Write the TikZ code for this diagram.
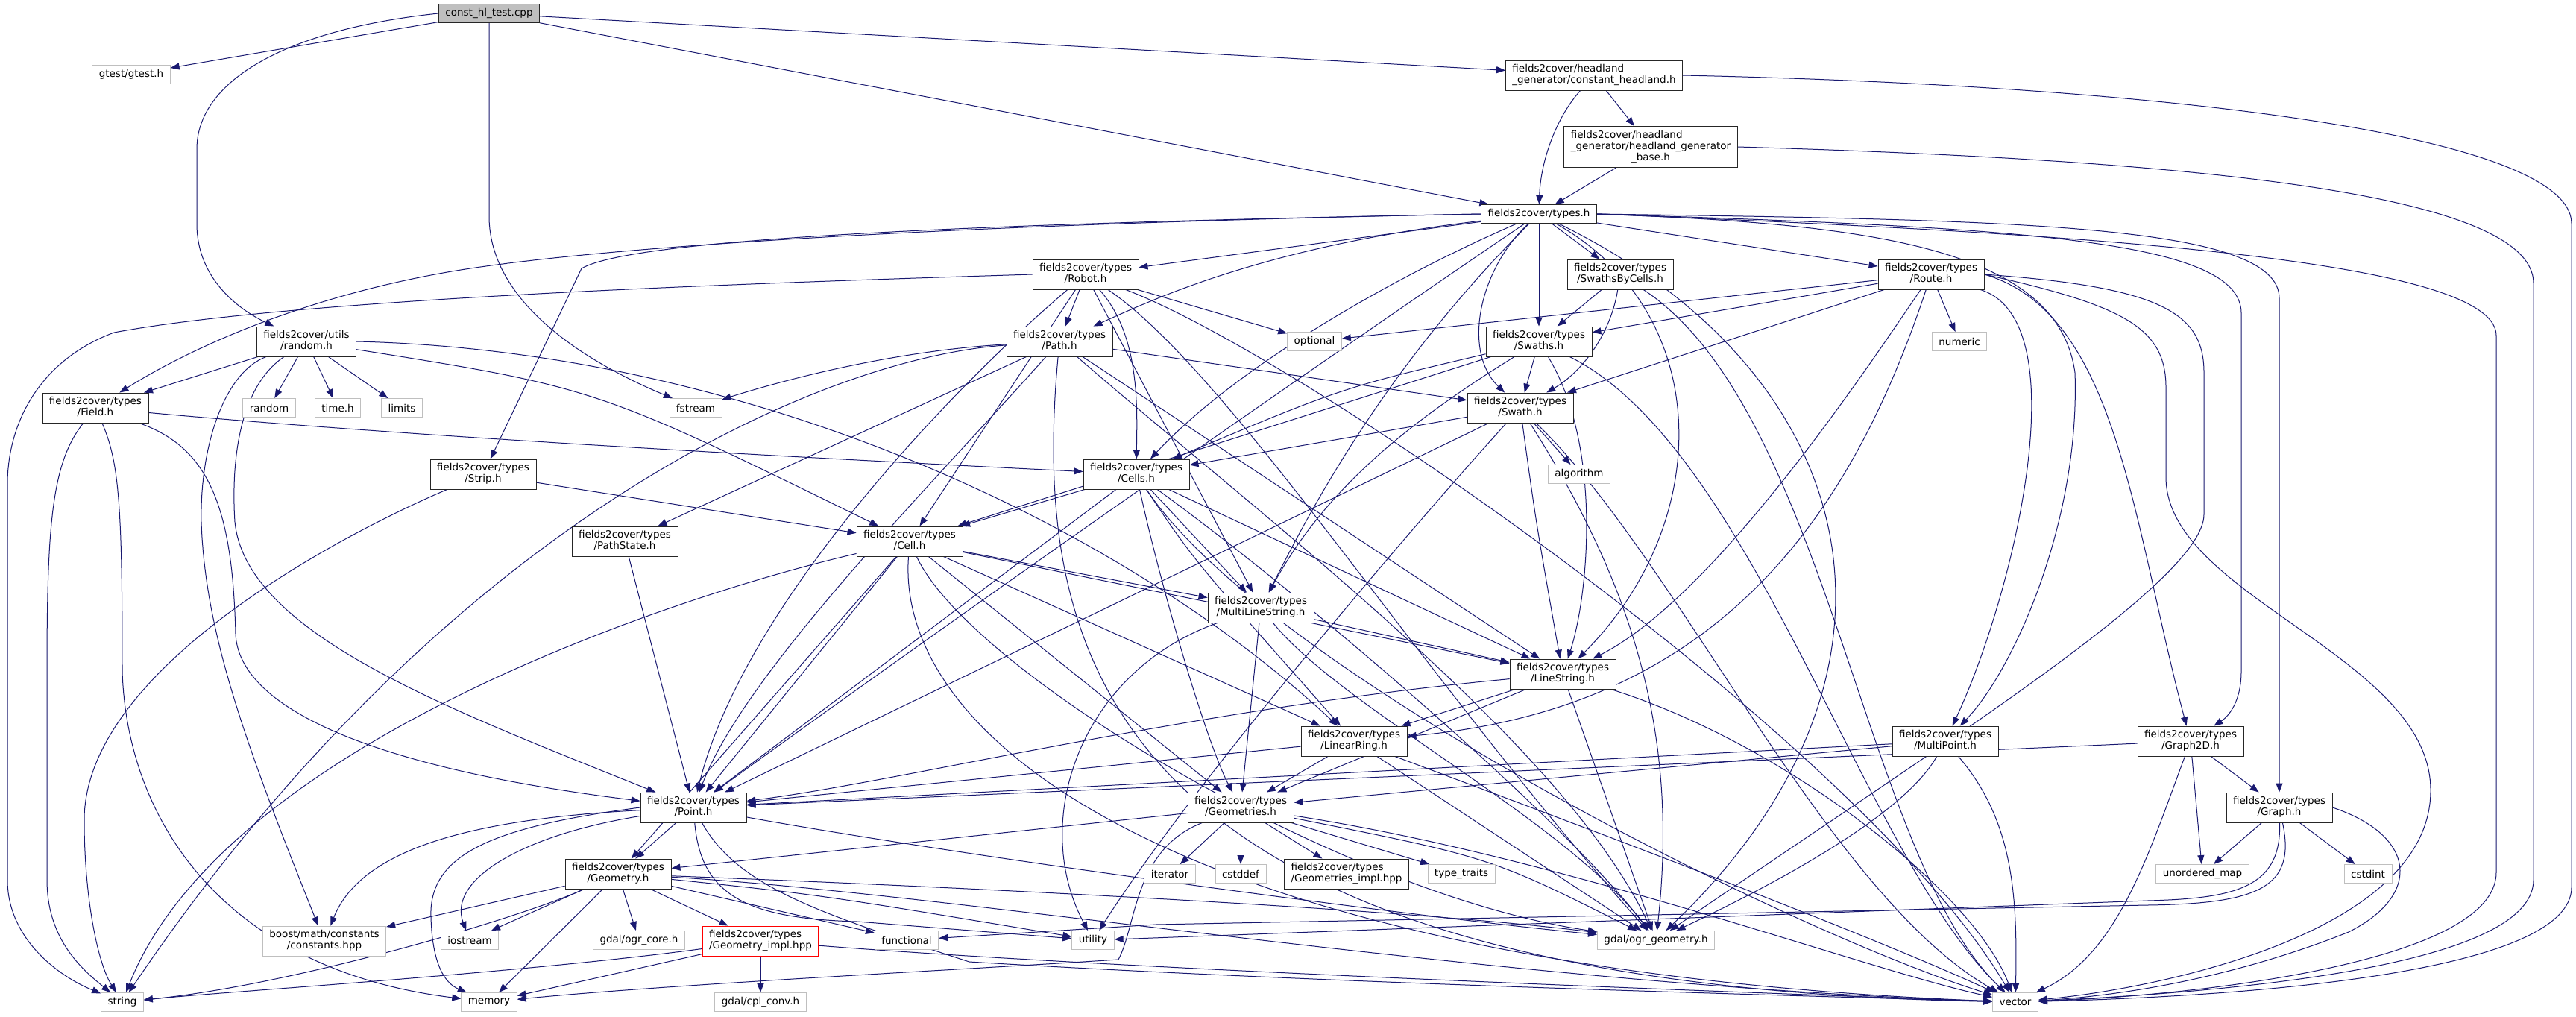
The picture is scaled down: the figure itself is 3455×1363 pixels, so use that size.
\documentclass[tikz,border=0pt]{standalone}
\usepackage{fontspec}
\setmainfont{DejaVu Sans}
\usetikzlibrary{arrows.meta}
\pgfdeclarelayer{bg}
\pgfsetlayers{bg,main}
\definecolor{edgeblue}{RGB}{25,25,112}
\definecolor{sysgray}{RGB}{191,191,191}
\newcommand{\ftwo}[2]{\begin{tabular}{@{}l@{}}#1\\\multicolumn{1}{@{}c@{}}{#2}\end{tabular}}
\newcommand{\ftype}[1]{\ftwo{fields2cover/types}{/#1}}

\begin{document}
\begin{tikzpicture}[x=1pt, y=-1pt, font=\fontsize{13.5}{15}\selectfont,
    box/.style={draw, line width=0.9pt, fill=white, inner xsep=9pt, inner ysep=5pt, minimum height=25pt},
    hdr/.style={box, draw=black!85},
    sys/.style={box, draw=sysgray},
    root/.style={box, draw=black!85, fill=sysgray},
    miss/.style={box, draw=red},
    inc/.style={draw=edgeblue, line width=1pt, -{Triangle[length=12pt,width=9pt]}}]
    \useasboundingbox (0,0) rectangle (3455,1363);

    % the test and the headland generator
    \node[root] (const) at (656,18) {const\_hl\_test.cpp};
    \node[sys] (gtest) at (176,100) {gtest/gtest.h};
    \node[hdr] (consthl) at (2138,101) {\ftwo{fields2cover/headland}{\_generator/constant\_headland.h}};
    \node[hdr] (hlbase) at (2214,197) {\begin{tabular}{@{}l@{}}fields2cover/headland\\\_generator/headland\_generator\\\multicolumn{1}{@{}c@{}}{\_base.h}\end{tabular}};
    \node[hdr] (types) at (2064,287) {fields2cover/types.h};

    % types
    \node[hdr] (robot) at (1456,368) {\ftype{Robot.h}};
    \node[hdr] (sbc) at (2173,368) {\ftype{SwathsByCells.h}};
    \node[hdr] (route) at (2590,368) {\ftype{Route.h}};
    \node[hdr] (rand) at (411,458) {\ftwo{fields2cover/utils}{/random.h}};
    \node[hdr] (path) at (1421,458) {\ftype{Path.h}};
    \node[sys] (optional) at (1763,458) {optional};
    \node[hdr] (swaths) at (2064,458) {\ftype{Swaths.h}};
    \node[sys] (numeric) at (2628,458) {numeric};
    \node[hdr] (field) at (128,547) {\ftype{Field.h}};
    \node[sys] (stdrandom) at (361,547) {random};
    \node[sys] (timeh) at (453,547) {time.h};
    \node[sys] (limits) at (539,547) {limits};
    \node[sys] (fstream) at (933,547) {fstream};
    \node[hdr] (swath) at (2039,547) {\ftype{Swath.h}};
    \node[hdr] (strip) at (648,636) {\ftype{Strip.h}};
    \node[hdr] (cells) at (1524,636) {\ftype{Cells.h}};
    \node[sys] (algorithm) at (2118,636) {algorithm};
    \node[hdr] (pathstate) at (838,726) {\ftype{PathState.h}};
    \node[hdr] (cell) at (1220,726) {\ftype{Cell.h}};
    \node[hdr] (mls) at (1691,815) {\ftype{MultiLineString.h}};
    \node[hdr] (ls) at (2096,904) {\ftype{LineString.h}};
    \node[hdr] (lr) at (1816,994) {\ftype{LinearRing.h}};
    \node[hdr] (mp) at (2609,994) {\ftype{MultiPoint.h}};
    \node[hdr] (gtwod) at (2938,994) {\ftype{Graph2D.h}};
    \node[hdr] (point) at (930,1083) {\ftype{Point.h}};
    \node[hdr] (geoms) at (1664,1083) {\ftype{Geometries.h}};
    \node[hdr] (graph) at (3057,1083) {\ftype{Graph.h}};
    \node[hdr] (geometry) at (829,1172) {\ftype{Geometry.h}};
    \node[sys] (iterator) at (1569,1172) {iterator};
    \node[sys] (cstddef) at (1664,1172) {cstddef};
    \node[hdr] (geomsimpl) at (1806,1172) {\ftype{Geometries\_impl.hpp}};
    \node[sys] (typetraits) at (1960,1172) {type\_traits};
    \node[sys] (umap) at (2954,1172) {unordered\_map};
    \node[sys] (cstdint) at (3176,1172) {cstdint};

    % system headers at the bottom
    \node[sys] (boost) at (435,1262) {\ftwo{boost/math/constants}{/constants.hpp}};
    \node[sys] (iostream) at (630,1261) {iostream};
    \node[sys] (ogrcore) at (857,1261) {gdal/ogr\_core.h};
    \node[miss] (geomimpl) at (1020,1262) {\ftype{Geometry\_impl.hpp}};
    \node[sys] (functional) at (1216,1261) {functional};
    \node[sys] (utility) at (1466,1261) {utility};
    \node[sys] (ogrgeom) at (2221,1261) {gdal/ogr\_geometry.h};
    \node[sys] (string) at (164,1344) {string};
    \node[sys] (memory) at (656,1344) {memory};
    \node[sys] (cplconv) at (1020,1344) {gdal/cpl\_conv.h};
    \node[sys] (vector) at (2703,1344) {vector};

    \begin{pgfonlayer}{bg}
    \fill[white] (0,0) rectangle (3455,1363);

    % const_hl_test.cpp
    \draw[inc] (const) -- (gtest);
    \draw[inc] (const.west) .. controls (380,40) and (264,110) .. (264,200) -- (264,300) .. controls (264,380) and (330,420) .. (rand);
    \draw[inc] (const) -- (656,290) .. controls (656,420) and (820,500) .. (fstream);
    \draw[inc] (const) -- (types);
    \draw[inc] (const) -- (consthl);

    % headland generator
    \draw[inc] (consthl) .. controls (2085,160) and (2066,220) .. (types);
    \draw[inc] (consthl) -- (hlbase);
    \draw[inc] (consthl.east) .. controls (2900,115) and (3449,180) .. (3449,300) -- (3449,1190) .. controls (3449,1300) and (3050,1335) .. (vector);
    \draw[inc] (hlbase) -- (types);
    \draw[inc] (hlbase.east) .. controls (2950,215) and (3398,260) .. (3398,380) -- (3398,1180) .. controls (3398,1295) and (3000,1330) .. (vector);

    % types.h
    \draw[inc] (types) -- (robot);
    \draw[inc] (types) .. controls (1700,330) and (1550,400) .. (path);
    \draw[inc] (types) -- (route);
    \draw[inc] (types) -- (sbc);
    \draw[inc] (types) -- (swaths);
    \draw[inc] (types) .. controls (1985,360) and (1960,470) .. (swath);
    \draw[inc] (types) .. controls (1850,380) and (1650,500) .. (cells);
    \draw[inc] (types.west) .. controls (1300,300) and (800,330) .. (600,365) .. controls (400,400) and (250,470) .. (field);
    \draw[inc] (types.west) .. controls (1300,300) and (850,320) .. (780,360) -- (strip);
    \draw[inc] (types) .. controls (1750,500) and (1250,850) .. (point);
    \draw[inc] (types) .. controls (1850,500) and (1750,700) .. (mls);
    \draw[inc] (types) .. controls (2300,420) and (2300,700) .. (ls);
    \draw[inc] (types.east) .. controls (2500,300) and (2760,330) .. (2783,500) .. controls (2790,700) and (2700,900) .. (mp);
    \draw[inc] (types.east) .. controls (2700,305) and (3006,320) .. (3006,420) -- (3006,900) .. controls (3006,940) and (2990,960) .. (gtwod);
    \draw[inc] (types.east) .. controls (2700,295) and (3057,300) .. (3057,400) -- (graph);
    \draw[inc] (types.east) .. controls (2700,310) and (3348,340) .. (3348,450) -- (3348,1170) .. controls (3348,1290) and (2950,1335) .. (vector);
    \draw[inc] (types) .. controls (2500,500) and (2600,900) .. (ogrgeom);

    % Robot.h
    \draw[inc] (robot) -- (path);
    \draw[inc] (robot) -- (optional);
    \draw[inc] (robot) .. controls (1530,450) and (1525,550) .. (cells);
    \draw[inc] (robot.west) .. controls (1000,380) and (400,400) .. (153,446) .. controls (60,480) and (10,560) .. (10,650) -- (10,1180) .. controls (10,1260) and (80,1310) .. (string);
    \draw[inc] (robot) .. controls (1300,500) and (1000,800) .. (point);
    \draw[inc] (robot) .. controls (1650,500) and (1900,900) .. (ogrgeom);
    \draw[inc] (robot) .. controls (1750,480) and (2500,1000) .. (vector);
    \draw[inc] (robot) -- (mls);
    \draw[inc] (robot) -- (cell);

    % Path.h
    \draw[inc] (path) .. controls (1200,470) and (1050,510) .. (fstream);
    \draw[inc] (path) -- (swath);
    \draw[inc] (path) -- (pathstate);
    \draw[inc] (path) .. controls (1250,650) and (1000,900) .. (point);
    \draw[inc] (path) .. controls (1100,480) and (600,700) .. (string);
    \draw[inc] (path) -- (ls);
    \draw[inc] (path) .. controls (1700,700) and (2100,1000) .. (ogrgeom);
    \draw[inc] (path) .. controls (1380,900) and (1500,1320) .. (vector);

    % SwathsByCells.h
    \draw[inc] (sbc) -- (swaths);
    \draw[inc] (sbc) .. controls (2160,450) and (2120,500) .. (swath);
    \draw[inc] (sbc) .. controls (2450,550) and (2500,1150) .. (vector);

    % Route.h
    \draw[inc] (route) -- (optional);
    \draw[inc] (route) -- (numeric);
    \draw[inc] (route) -- (swaths);
    \draw[inc] (route) -- (swath);
    \draw[inc] (route) .. controls (2480,700) and (2300,950) .. (lr);
    \draw[inc] (route) .. controls (2500,500) and (2300,800) .. (ls);
    \draw[inc] (route) .. controls (2790,430) and (2700,800) .. (mp);
    \draw[inc] (route.east) .. controls (2840,420) and (2860,700) .. (gtwod);
    \draw[inc] (route.east) .. controls (2900,385) and (2956,420) .. (2956,500) -- (2956,690) .. controls (2956,780) and (2600,1000) .. (ogrgeom);
    \draw[inc] (route.east) .. controls (2850,410) and (2905,440) .. (2905,520) -- (2905,640) .. controls (2905,800) and (3260,880) .. (3260,1060) .. controls (3260,1250) and (2900,1325) .. (vector);

    % Swaths.h
    \draw[inc] (swaths) -- (swath);
    \draw[inc] (swaths) .. controls (1800,520) .. (cells);
    \draw[inc] (swaths) -- (cell);
    \draw[inc] (swaths) .. controls (1900,560) and (1780,650) .. (mls);
    \draw[inc] (swaths) .. controls (2150,600) and (2130,800) .. (ls);
    \draw[inc] (swaths) .. controls (2350,600) and (2500,1150) .. (vector);

    % Swath.h
    \draw[inc] (swath) -- (algorithm);
    \draw[inc] (swath) -- (cells);
    \draw[inc] (swath) .. controls (2060,700) .. (ls);
    \draw[inc] (swath) .. controls (2200,800) and (2250,1000) .. (ogrgeom);
    \draw[inc] (swath) .. controls (2250,750) and (2450,1200) .. (vector);
    \draw[inc] (swath) .. controls (1900,700) and (1600,1050) .. (utility);
    \draw[inc] (swath) -- (point);

    % random.h
    \draw[inc] (rand) -- (field);
    \draw[inc] (rand) -- (stdrandom);
    \draw[inc] (rand) -- (timeh);
    \draw[inc] (rand) -- (limits);
    \draw[inc] (rand) .. controls (300,500) and (268,600) .. (270,700) .. controls (275,850) and (330,1000) .. (boost);
    \draw[inc] (rand) .. controls (320,520) and (310,620) .. (315,700) .. controls (330,850) and (600,950) .. (point);
    \draw[inc] (rand.east) .. controls (1000,470) and (1500,700) .. (lr);
    \draw[inc] (rand) .. controls (800,520) .. (cell);

    % Field.h
    \draw[inc] (field) .. controls (600,590) and (1200,620) .. (cells);
    \draw[inc] (field) .. controls (70,620) and (63,700) .. (63,900) -- (63,1180) .. controls (63,1260) and (110,1300) .. (string);
    \draw[inc] (field) .. controls (160,620) and (164,680) .. (164,900) .. controls (170,1100) and (300,1300) .. (memory);
    \draw[inc] (field) .. controls (280,600) and (312,680) .. (316,850) .. controls (320,950) and (500,1030) .. (point);

    % Strip.h
    \draw[inc] (strip) -- (cell);
    \draw[inc] (strip) .. controls (450,720) and (113,900) .. (113,1100) .. controls (113,1200) and (130,1290) .. (string);

    % Cells.h
    \draw[inc] (cells) -- (cell);
    \draw[inc] (cells) -- (mls);
    \draw[inc] (cells) -- (ls);
    \draw[inc] (cells) .. controls (1600,750) .. (lr);
    \draw[inc] (cells) .. controls (1560,800) and (1620,1000) .. (geoms);
    \draw[inc] (cells) -- (point);
    \draw[inc] (cells) .. controls (1750,800) and (2100,1100) .. (ogrgeom);
    \draw[inc] (cells) .. controls (1700,900) and (2400,1250) .. (vector);

    % PathState.h
    \draw[inc] (pathstate) -- (point);

    % Cell.h
    \draw[inc] (cell) -- (mls);
    \draw[inc] (cell) -- (ls);
    \draw[inc] (cell) -- (lr);
    \draw[inc] (cell) -- (geoms);
    \draw[inc] (cell) -- (point);
    \draw[inc] (cell) .. controls (1300,900) and (1800,1200) .. (ogrgeom);
    \draw[inc] (cell) .. controls (1200,1000) and (1600,1300) .. (vector);
    \draw[inc] (cell) .. controls (900,800) and (300,1000) .. (string);
    \draw[inc] (cell) -- (geometry);

    % MultiLineString.h
    \draw[inc] (mls) -- (ls);
    \draw[inc] (mls) -- (geoms);
    \draw[inc] (mls) .. controls (1800,950) and (2100,1100) .. (ogrgeom);
    \draw[inc] (mls) .. controls (1450,900) and (1380,1100) .. (utility);

    % LineString.h
    \draw[inc] (ls) -- (lr);
    \draw[inc] (ls) -- (geoms);
    \draw[inc] (ls) .. controls (1600,950) and (1200,1050) .. (point);
    \draw[inc] (ls) -- (ogrgeom);
    \draw[inc] (ls) .. controls (2400,1000) and (2650,1200) .. (vector);

    % LinearRing.h
    \draw[inc] (lr) -- (point);
    \draw[inc] (lr) -- (geoms);
    \draw[inc] (lr) -- (ogrgeom);
    \draw[inc] (lr) .. controls (2100,1100) and (2500,1250) .. (vector);

    % MultiPoint.h
    \draw[inc] (mp) -- (point);
    \draw[inc] (mp) -- (geoms);
    \draw[inc] (mp) .. controls (2550,1100) and (2350,1200) .. (ogrgeom);
    \draw[inc] (mp) .. controls (2700,1100) and (2706,1200) .. (vector);

    % Graph2D.h and Graph.h
    \draw[inc] (gtwod) -- (graph);
    \draw[inc] (gtwod) -- (umap);
    \draw[inc] (gtwod) .. controls (2880,1150) and (2840,1280) .. (vector);
    \draw[inc] (gtwod) -- (point);
    \draw[inc] (graph) -- (umap);
    \draw[inc] (graph) -- (cstdint);
    \draw[inc] (graph.east) .. controls (3240,1120) and (3250,1200) .. (3150,1250) .. controls (3000,1310) and (2850,1335) .. (vector);
    \draw[inc] (graph) .. controls (3060,1190) and (3000,1205) .. (2880,1208) -- (utility);
    \draw[inc] (graph) .. controls (3080,1190) and (3030,1212) .. (2880,1214) -- (1550,1240) -- (functional);

    % Geometries.h
    \draw[inc] (geoms) -- (iterator);
    \draw[inc] (geoms) -- (cstddef);
    \draw[inc] (geoms) -- (geomsimpl);
    \draw[inc] (geoms) -- (typetraits);
    \draw[inc] (geoms) -- (geometry);
    \draw[inc] (geoms) .. controls (2000,1150) .. (ogrgeom);
    \draw[inc] (geoms) .. controls (1520,1140) and (1525,1240) .. (1500,1287) .. controls (1300,1300) and (900,1320) .. (memory);
    \draw[inc] (geoms) .. controls (2100,1150) and (2500,1300) .. (vector);

    % Point.h
    \draw[inc] (point) -- (geometry);
    \draw[inc] (point) .. controls (700,1120) and (600,1180) .. (iostream);
    \draw[inc] (point.west) .. controls (650,1110) and (575,1150) .. (578,1230) .. controls (580,1300) and (600,1320) .. (memory);
    \draw[inc] (point) .. controls (600,1100) and (480,1150) .. (boost);
    \draw[inc] (point) .. controls (940,1200) and (1000,1232) .. (1150,1236) -- (utility);
    \draw[inc] (point) .. controls (990,1190) and (1100,1225) .. (1300,1290) .. controls (1800,1320) and (2400,1335) .. (vector);
    \draw[inc] (point) .. controls (1300,1150) and (1900,1230) .. (ogrgeom);

    % Geometry.h
    \draw[inc] (geometry) -- (boost);
    \draw[inc] (geometry) -- (iostream);
    \draw[inc] (geometry) -- (memory);
    \draw[inc] (geometry) -- (ogrcore);
    \draw[inc] (geometry) -- (geomimpl);
    \draw[inc] (geometry) -- (functional);
    \draw[inc] (geometry) .. controls (1100,1200) .. (utility);
    \draw[inc] (geometry) .. controls (1300,1190) and (1900,1220) .. (ogrgeom);
    \draw[inc] (geometry) .. controls (1300,1200) and (2000,1320) .. (vector);
    \draw[inc] (geometry) .. controls (700,1230) and (400,1320) .. (string);

    % Geometry_impl.hpp
    \draw[inc] (geomimpl) -- (memory);
    \draw[inc] (geomimpl) -- (cplconv);
    \draw[inc] (geomimpl) .. controls (700,1305) and (300,1330) .. (string);
    \draw[inc] (geomimpl) .. controls (1500,1300) and (2300,1330) .. (vector);
    \end{pgfonlayer}
\end{tikzpicture}
\end{document}
